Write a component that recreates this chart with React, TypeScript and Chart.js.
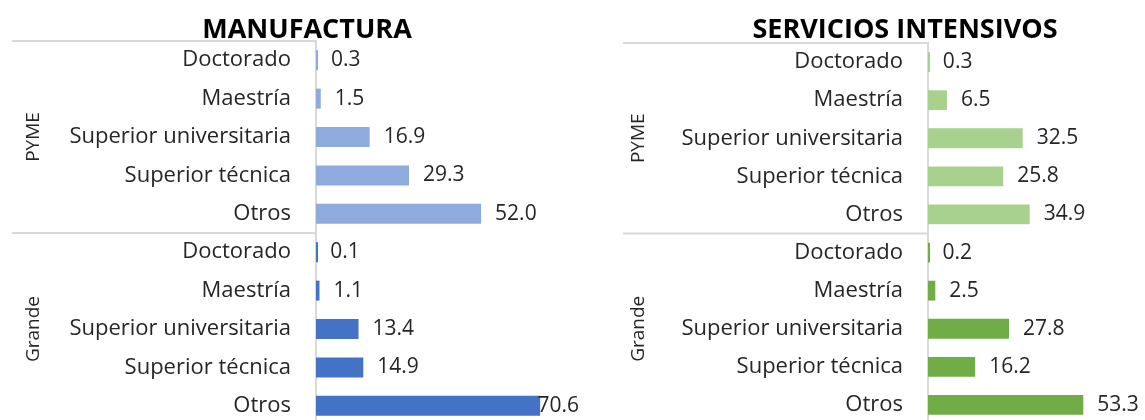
import React, { useEffect, useRef } from "react";
import { Chart, registerables } from "chart.js";

Chart.register(...registerables);

const categories = ["Doctorado", "Maestría", "Superior universitaria", "Superior técnica", "Otros"];
const groups = ["PYME", "Grande"];

const manufPyme = [0.3, 1.5, 16.9, 29.3, 52.0];
const manufGrande = [0.1, 1.1, 13.4, 14.9, 70.6];
const servPyme = [0.3, 6.5, 32.5, 25.8, 34.9];
const servGrande = [0.2, 2.5, 27.8, 16.2, 53.3];

const FONT = "'Open Sans', sans-serif";
const TEXT = "#262626";
const CANVAS_H = 470;

type PanelCfg = {
  title: string;
  pyme: number[];
  grande: number[];
  colors: [string, string];
  width: number;
  axisX: number;
  top: number;
  bottom: number;
  padRight: number;
  xMax: number;
  lineStart: number;
  groupX: number;
  titleX: number;
};

function makeOverlay(cfg: PanelCfg) {
  return {
    id: "overlay",
    afterDraw(chart: any) {
      const ctx = chart.ctx as CanvasRenderingContext2D;
      const area = chart.chartArea;
      const ys = chart.scales.y;
      const xs = chart.scales.x;
      ctx.save();
      // title
      ctx.fillStyle = "#000";
      ctx.font = `bold 27px ${FONT}`;
      ctx.textAlign = "center";
      ctx.textBaseline = "middle";
      ctx.fillText(cfg.title, cfg.titleX, 30);
      // separators
      ctx.strokeStyle = "#D9D9D9";
      ctx.lineWidth = 2;
      const midY = (ys.getPixelForValue(4) + ys.getPixelForValue(5)) / 2;
      ctx.beginPath();
      ctx.moveTo(cfg.lineStart, area.top);
      ctx.lineTo(area.left, area.top);
      ctx.moveTo(cfg.lineStart, midY);
      ctx.lineTo(area.left, midY);
      ctx.stroke();
      // group labels
      ctx.fillStyle = TEXT;
      ctx.font = `19px ${FONT}`;
      const gCenters = [(area.top + midY) / 2, (midY + area.bottom) / 2];
      groups.forEach((g, i) => {
        ctx.save();
        ctx.translate(cfg.groupX, gCenters[i]);
        ctx.rotate(-Math.PI / 2);
        ctx.textAlign = "center";
        ctx.textBaseline = "middle";
        ctx.fillText(g, 0, 0);
        ctx.restore();
      });
      // value labels
      const data = chart.data.datasets[0].data as number[];
      ctx.font = `21px ${FONT}`;
      ctx.textAlign = "left";
      ctx.textBaseline = "middle";
      data.forEach((v, i) => {
        const txt = v.toFixed(1);
        const w = ctx.measureText(txt).width;
        const end = xs.getPixelForValue(v);
        const x = Math.min(end + 14, cfg.width - w - 1);
        ctx.fillText(txt, x, ys.getPixelForValue(i));
      });
      ctx.restore();
    },
  };
}

function Panel({ cfg, left }: { cfg: PanelCfg; left: number }) {
  const ref = useRef<HTMLCanvasElement>(null);
  useEffect(() => {
    const canvas = ref.current!;
    const labels = [...categories, ...categories];
    const values = [...cfg.pyme, ...cfg.grande];
    const colors = [
      ...cfg.pyme.map(() => cfg.colors[0]),
      ...cfg.grande.map(() => cfg.colors[1]),
    ];
    const chart = new Chart(canvas, {
      type: "bar",
      data: {
        labels,
        datasets: [
          {
            data: values,
            backgroundColor: colors,
            barPercentage: 0.52,
            categoryPercentage: 1,
            minBarLength: 2,
          },
        ],
      },
      options: {
        indexAxis: "y",
        animation: false,
        responsive: false,
        maintainAspectRatio: false,
        layout: {
          padding: {
            left: 0,
            top: cfg.top,
            bottom: CANVAS_H - cfg.bottom,
            right: cfg.padRight,
          },
        },
        plugins: {
          legend: { display: false },
          tooltip: { enabled: false },
          title: { display: false },
        },
        scales: {
          x: {
            display: false,
            min: 0,
            max: cfg.xMax,
            grid: { display: false },
          },
          y: {
            grid: { display: false, drawTicks: false },
            border: { display: true, color: "#D9D9D9", width: 2 },
            ticks: {
              color: TEXT,
              font: { family: FONT, size: 22 },
              padding: 25,
              autoSkip: false,
            },
            afterFit: (scale: any) => {
              scale.width = cfg.axisX;
            },
          },
        },
      },
      plugins: [makeOverlay(cfg)],
    });
    return () => chart.destroy();
  }, [cfg]);
  return (
    <canvas
      ref={ref}
      width={cfg.width}
      height={CANVAS_H}
      style={{ position: "absolute", left, top: 0, width: cfg.width, height: CANVAS_H }}
    />
  );
}

const leftCfg: PanelCfg = {
  title: "MANUFACTURA",
  pyme: manufPyme,
  grande: manufGrande,
  colors: ["#8FAADC", "#4472C4"],
  width: 580,
  axisX: 316,
  top: 41,
  bottom: 425,
  padRight: 10,
  xMax: 80,
  lineStart: 12,
  groupX: 34,
  titleX: 307,
};

const rightCfg: PanelCfg = {
  title: "SERVICIOS INTENSIVOS",
  pyme: servPyme,
  grande: servGrande,
  colors: ["#A9D18E", "#70AD47"],
  width: 565,
  axisX: 348,
  top: 43,
  bottom: 424,
  padRight: 13,
  xMax: 70,
  lineStart: 43,
  groupX: 59,
  titleX: 325,
};

export default function App() {
  return (
    <div
      style={{
        position: "absolute",
        left: 0,
        top: 0,
        width: 1145,
        height: 420,
        overflow: "hidden",
        background: "#fff",
      }}
    >
      <Panel cfg={leftCfg} left={0} />
      <Panel cfg={rightCfg} left={580} />
    </div>
  );
}
